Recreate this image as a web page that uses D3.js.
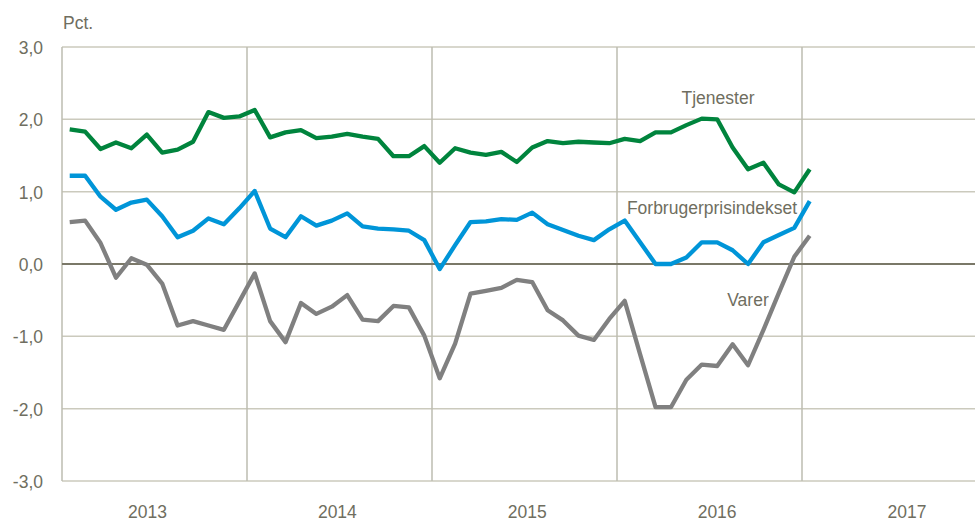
<!DOCTYPE html>
<html>
<head>
<meta charset="utf-8">
<script src="https://cdn.jsdelivr.net/npm/d3@7"></script>
<style>
  body { margin: 0; background: #fff; }
  text { font-family: "Liberation Sans", Arial, sans-serif; fill: #6f6e60; }
</style>
</head>
<body>
<svg id="chart" width="975" height="522"></svg>
<script>
// monthly values, Jan 2013 - Jan 2017 (pct.)
const tjenester = [1.86, 1.83, 1.59, 1.68, 1.60, 1.79, 1.54, 1.58, 1.69, 2.10, 2.02, 2.04,
  2.13, 1.75, 1.82, 1.85, 1.74, 1.76, 1.80, 1.76, 1.73, 1.49, 1.49, 1.63,
  1.40, 1.60, 1.54, 1.51, 1.55, 1.41, 1.61, 1.70, 1.67, 1.69, 1.68, 1.67,
  1.73, 1.70, 1.82, 1.82, 1.92, 2.01, 2.00, 1.61, 1.31, 1.40, 1.10, 0.99,
  1.31];
const fpi = [1.22, 1.22, 0.93, 0.75, 0.85, 0.89, 0.66, 0.37, 0.46, 0.63, 0.55, 0.77,
  1.01, 0.49, 0.37, 0.66, 0.53, 0.60, 0.70, 0.52, 0.49, 0.48, 0.46, 0.33,
  -0.07, 0.26, 0.58, 0.59, 0.62, 0.61, 0.71, 0.55, 0.47, 0.39, 0.33, 0.48,
  0.60, 0.30, 0.00, 0.00, 0.09, 0.30, 0.30, 0.19, 0.00, 0.30, 0.40, 0.50,
  0.87];
const varer = [0.58, 0.60, 0.29, -0.19, 0.08, -0.01, -0.27, -0.85, -0.79, -0.85, -0.91, -0.52,
  -0.13, -0.79, -1.08, -0.54, -0.69, -0.59, -0.43, -0.77, -0.79, -0.58, -0.60, -0.99,
  -1.58, -1.10, -0.41, -0.37, -0.33, -0.22, -0.25, -0.64, -0.78, -0.99, -1.05, -0.76,
  -0.51, -1.25, -1.98, -1.98, -1.60, -1.39, -1.41, -1.11, -1.40, -0.91, -0.40, 0.10,
  0.39];
const years = ["2013", "2014", "2015", "2016", "2017"];
const yTicks = [3, 2, 1, 0, -1, -2, -3];

const series = [
  { name: "Tjenester", values: tjenester, color: "#00843d", label: [718, 104] },
  { name: "Forbrugerprisindekset", values: fpi, color: "#0095d8", label: [712, 214] },
  { name: "Varer", values: varer, color: "#808080", label: [748, 306] }
];

const svg = d3.select("#chart");
const width = +svg.attr("width");
const plotLeft = 62, plotTop = 47, plotBottom = 481;
const monthW = 185 / 12;

const x = d3.scaleLinear().domain([0, 60]).range([plotLeft, plotLeft + 60 * monthW]);
const y = d3.scaleLinear().domain([-3, 3]).range([plotBottom, plotTop]);
const xLab = d3.scalePoint().domain(years).range([147.5, 907]);

// horizontal grid
svg.append("g").selectAll("line")
  .data(yTicks.filter(d => d !== 0))
  .join("line")
  .attr("x1", plotLeft).attr("x2", width)
  .attr("y1", d => y(d)).attr("y2", d => y(d))
  .attr("stroke", "#cbcabd").attr("stroke-width", 1.5);

// vertical grid (year boundaries)
svg.append("g").selectAll("line")
  .data(d3.range(0, 60, 12))
  .join("line")
  .attr("x1", d => x(d)).attr("x2", d => x(d))
  .attr("y1", plotTop).attr("y2", plotBottom)
  .attr("stroke", "#bdbcb0").attr("stroke-width", 1.5);

// zero line
svg.append("line")
  .attr("x1", plotLeft).attr("x2", width)
  .attr("y1", y(0)).attr("y2", y(0))
  .attr("stroke", "#7a7868").attr("stroke-width", 2);

// y labels (hyphen minus, comma decimal)
svg.append("g").selectAll("text")
  .data(yTicks)
  .join("text")
  .attr("x", 43).attr("y", d => y(d))
  .attr("dy", "0.4em")
  .attr("text-anchor", "end")
  .style("font-size", "17.5px")
  .text(d => d.toFixed(1).replace(".", ","));

svg.append("text")
  .attr("x", 63).attr("y", 29)
  .style("font-size", "17.5px")
  .text("Pct.");

// x labels
svg.append("g").selectAll("text")
  .data(years)
  .join("text")
  .attr("x", d => xLab(d)).attr("y", 518)
  .attr("text-anchor", "middle")
  .style("font-size", "17.5px")
  .text(d => d);

const line = d3.line()
  .x((d, i) => x(i + 0.5))
  .y(d => y(d));

series.forEach(s => {
  svg.append("path")
    .datum(s.values)
    .attr("fill", "none")
    .attr("stroke", s.color)
    .attr("stroke-width", 4.3)
    .attr("stroke-linejoin", "round")
    .attr("d", line);
});

// series labels
series.forEach(s => {
  svg.append("text")
    .attr("x", s.label[0]).attr("y", s.label[1])
    .attr("text-anchor", "middle")
    .style("font-size", "17.5px")
    .text(s.name);
});
</script>
</body>
</html>
